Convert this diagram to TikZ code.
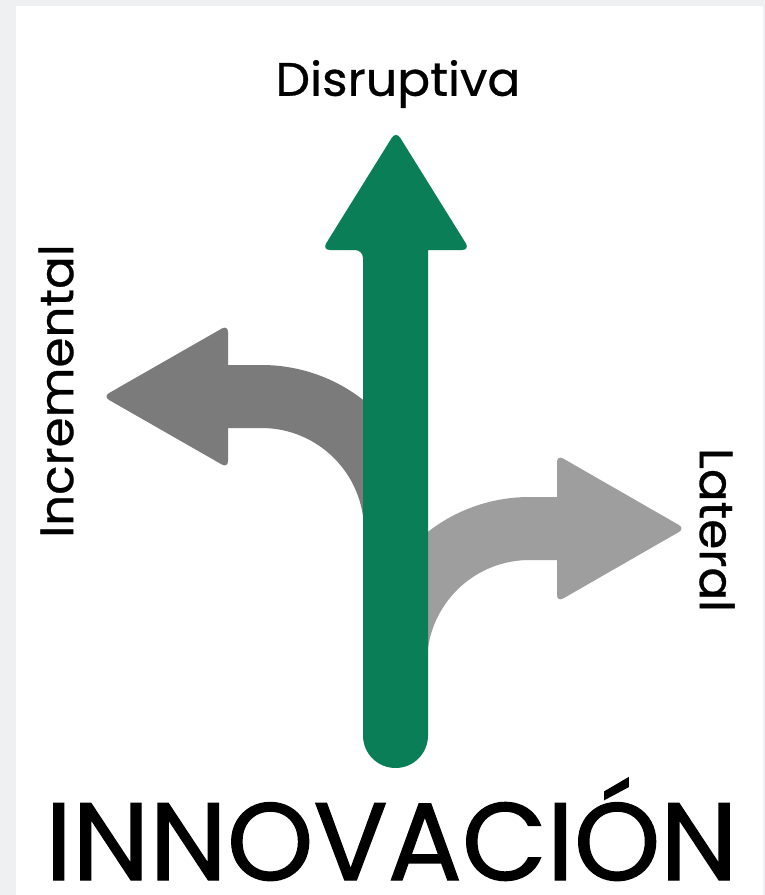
\documentclass[tikz,border=0pt]{standalone}
\usepackage{fontspec}
\setmainfont{Poppins}
\newfontfamily\labelfont{Poppins}[FakeBold=0.6]
\newfontfamily\bigfont{Poppins}[FakeBold=1.2]
\definecolor{bggray}{HTML}{EFF0F2}
\definecolor{arrowgreen}{HTML}{0A7F57}
\definecolor{darkgrayarrow}{HTML}{7B7B7B}
\definecolor{lightgrayarrow}{HTML}{9E9E9E}
\begin{document}
\begin{tikzpicture}[x=1pt,y=-1pt,
  labeltext/.style={inner sep=0pt,text=black,font=\labelfont\fontsize{47}{50}\selectfont},
  bigtext/.style={inner sep=0pt,text=black,font=\bigfont\fontsize{110}{112}\selectfont}]
\useasboundingbox (0,0) rectangle (765,895);
\fill[bggray] (0,0) rectangle (765,895);
\fill[white] (16,6) rectangle (763,895);
% left (incremental) arrow
\fill[darkgrayarrow] (228,365) -- (261.5,365)
  arc[start angle=270,end angle=360,radius=165.5] -- (427,560) -- (364,560) -- (364,530.5)
  arc[start angle=360,end angle=270,radius=102.5] -- (228,428) [rounded corners=7pt] -- (228,468) -- (103,396.5) -- (228,325) -- (228,365) [sharp corners] -- cycle;
% right (lateral) arrow
\fill[lightgrayarrow] (557,497) -- (529.5,497)
  arc[start angle=270,end angle=180,radius=165.5] -- (364,700) -- (427,700) -- (427,662.5)
  arc[start angle=180,end angle=270,radius=102.5] -- (557,560) [rounded corners=7pt] -- (557,602) -- (685,528.5) -- (557,455) -- (557,497) [sharp corners] -- cycle;
% green (disruptive) arrow
\fill[arrowgreen] (363,300) -- (363,735.5) arc[start angle=180,end angle=0,radius=32.5] -- (428,250)
  [rounded corners=8pt] -- (470,250) -- (396,131) -- (322,250) -- (363,250) [sharp corners] -- cycle;
% labels
\node[labeltext] (dis) at (398,84) {\scalebox{1.04}[1]{Disruptiva}};
\node[labeltext,rotate=90] (inc) at (56,391) {\scalebox{1.03}[1]{Incremental}};
\node[labeltext,rotate=-90] (lat) at (717,530) {\scalebox{1.03}[1]{Lateral}};
\node[bigtext,anchor=base] (inn) at (391.5,880) {INNOVACIÓN};
\end{tikzpicture}
\end{document}
